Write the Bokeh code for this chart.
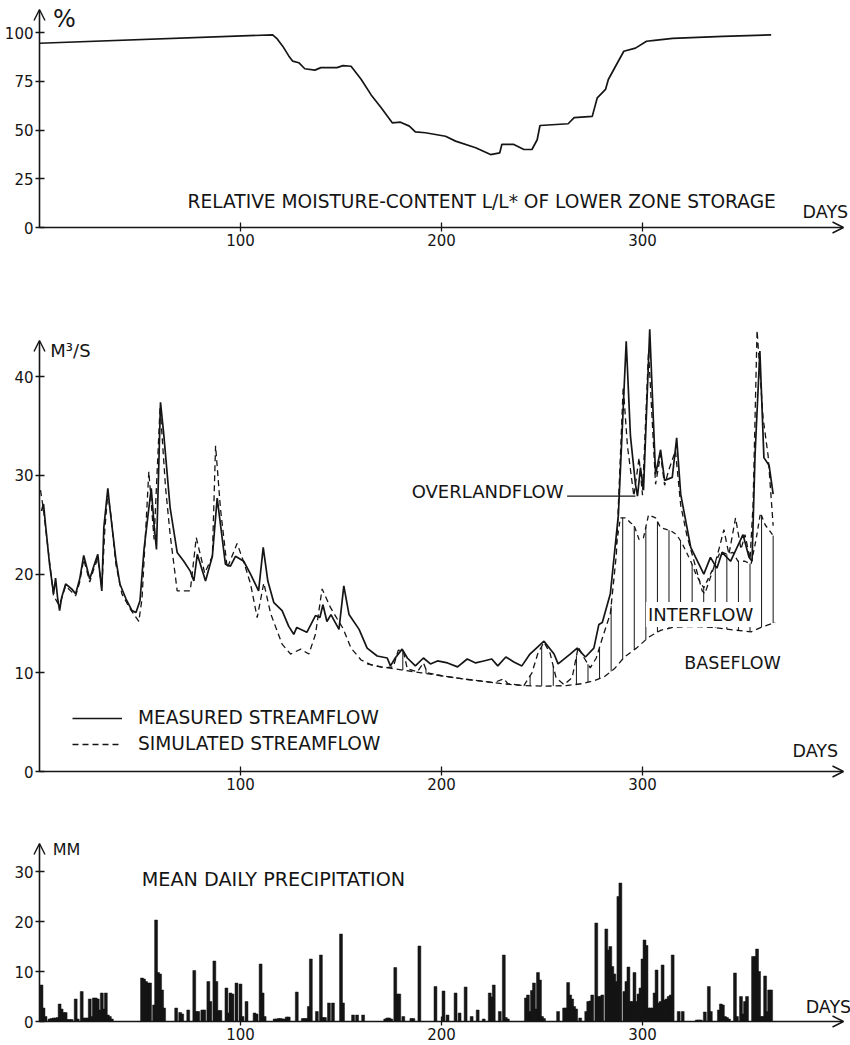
import numpy as np
from bokeh.plotting import figure
from bokeh.layouts import column
from bokeh.models import Range1d, FixedTicker, Arrow, OpenHead, Legend, LegendItem
from bokeh.core.properties import value
from bokeh.embed import file_html
from bokeh.resources import INLINE

FONT = "DejaVu Sans"
INK = "#151515"
LABEL_SIZE = "17.5px"

# ---------------- relative moisture content of lower zone storage (%) ----------------
moist_day = [0, 116, 118, 121, 124, 126, 129, 132, 137, 140, 148, 151, 155, 160, 165, 170,
             175.5, 179.6, 184, 187, 192, 202, 207, 217, 224.4, 229, 230, 236, 241, 245,
             247.6, 249, 263, 266, 275, 277.5, 281.6, 283, 286.6, 290.7, 296.5, 302, 306,
             315, 340, 364]
moist_pct = [94.5, 98.8, 97.0, 93.0, 88.0, 85.3, 84.5, 81.4, 80.7, 82.0, 82.0, 83.0, 82.7,
             76.0, 68.0, 61.4, 53.7, 54.0, 52.0, 49.0, 48.6, 46.8, 44.3, 40.9, 37.4, 38.3,
             42.6, 42.6, 40.0, 40.0, 45.0, 52.3, 53.2, 56.3, 57.0, 66.5, 70.8, 75.9, 82.7,
             90.4, 92.0, 95.5, 96.0, 97.0, 98.0, 98.8]

# ---------------- streamflow (m3/s) ----------------
meas_day = [1, 2, 3, 5, 7, 8, 9, 10, 11, 13, 16, 18, 20, 22, 25, 27, 29, 31, 32, 34, 35,
            38, 40, 43, 46, 48, 50, 52, 54, 55.6, 57, 58.2, 60.2, 61.8, 65, 68.5, 71.8, 75,
            76.8, 78.5, 82.6, 86, 88.4, 92.5, 95, 97.5, 101.6, 105, 109, 111.3, 113.6, 116.6,
            120.7, 124, 126.5, 128, 133, 137.3, 139.5, 141, 143, 145, 149, 151.4, 154, 159,
            163, 168, 173, 174.6, 177, 180.4, 183, 187, 191, 194.5, 198, 203, 208, 212.8,
            217, 221, 225, 228, 232, 236, 240, 244, 251, 256, 258, 264, 267.5, 271.6, 275.8,
            278.3, 280, 284, 288, 291.9, 294, 296.5, 297.5, 299, 300.5, 303.6, 306.5, 309,
            311, 314.8, 317, 319, 324, 330.5, 333.8, 337, 339.6, 343.8, 350, 353, 354.5, 356,
            358.4, 360.4, 363, 365]
meas_q = [26.4, 27.1, 25.0, 21.0, 18.0, 19.6, 17.6, 16.3, 17.6, 19.0, 18.5, 18.0, 19.5, 21.9,
          19.5, 20.8, 22.0, 18.3, 24.7, 28.7, 26.7, 21.5, 19.0, 17.5, 16.3, 16.1, 17.3, 22.5,
          26.0, 28.7, 25.0, 22.5, 37.4, 34.2, 26.7, 22.2, 21.3, 20.3, 19.3, 22.0, 19.3, 21.8,
          27.7, 21.0, 20.8, 21.8, 21.3, 20.0, 18.3, 22.7, 19.3, 17.1, 16.3, 14.7, 13.9, 14.6,
          14.1, 15.8, 15.6, 16.9, 15.2, 15.9, 14.4, 18.8, 15.9, 14.4, 12.5, 11.7, 11.5, 10.7,
          11.5, 12.4, 11.5, 10.7, 11.5, 10.9, 11.2, 11.0, 10.6, 11.4, 11.0, 11.2, 11.4, 10.7,
          11.6, 11.1, 10.7, 11.9, 13.2, 11.9, 10.9, 11.9, 12.5, 11.6, 12.5, 14.9, 15.1, 18.0,
          26.0, 43.6, 34.0, 29.1, 27.9, 30.8, 28.5, 44.8, 30.1, 32.6, 29.5, 29.8, 33.8, 28.1,
          22.7, 20.0, 21.7, 20.6, 22.2, 21.3, 24.0, 21.7, 21.3, 32.1, 42.6, 31.8, 31.0, 28.1]

sim_day = [0.5, 2, 4, 7, 9.6, 11, 13, 16, 18, 20, 22, 25, 27, 29, 31, 32.5, 34, 35.5, 38, 41,
           45, 49.4, 51, 54.4, 57, 60, 62.7, 65, 68.5, 75, 78, 82.2, 86, 87.6, 90, 93.4, 98.3,
           102, 105, 108.3, 111.6, 115, 120.7, 124.9, 130, 134, 137.3, 140.6, 144.8, 148, 151,
           155, 160, 165, 172, 176, 178.5, 181, 183, 188, 191, 193, 200, 210, 220, 226, 231,
           233, 241, 245, 248, 251, 254, 257, 261, 265, 268, 271, 274, 277, 280, 284, 287,
           290.4, 292.5, 295.7, 298.3, 300, 303, 306.5, 309, 311, 313, 316.4, 319, 322, 329.7,
           331, 336, 338, 340.5, 343, 346.3, 349, 351, 353.5, 355, 357, 360, 362.5, 365]
sim_q = [28.5, 26.5, 23.0, 17.8, 16.9, 17.5, 18.8, 18.2, 17.8, 19.2, 21.5, 19.2, 20.5, 21.6,
         18.6, 24.5, 28.2, 26.0, 21.0, 18.0, 16.5, 15.2, 17.5, 30.4, 23.5, 37.0, 28.8, 24.0,
         18.3, 18.3, 23.7, 20.1, 21.8, 33.0, 26.7, 20.6, 23.1, 21.0, 19.0, 15.6, 19.1, 16.0,
         12.9, 11.9, 12.4, 11.9, 13.9, 18.5, 16.6, 15.5, 14.5, 12.5, 11.3, 10.8, 10.5, 10.6,
         12.3, 12.2, 10.4, 10.1, 11.0, 10.0, 9.7, 9.4, 9.15, 9.0, 9.4, 8.9, 8.7, 10.0, 12.0,
         13.1, 12.0, 9.5, 8.8, 9.5, 12.6, 11.5, 10.5, 11.5, 13.5, 16.0, 22.0, 39.0, 33.0,
         27.9, 31.8, 28.0, 42.6, 29.1, 32.1, 29.0, 30.5, 32.5, 27.0, 24.0, 18.3, 18.0, 21.0,
         22.5, 24.5, 22.0, 25.7, 22.5, 24.0, 21.5, 27.0, 44.7, 35.8, 32.0, 24.9]

base_day = [163, 170, 180, 190, 200, 210, 220, 230, 241, 252, 262, 270, 276, 281, 286, 291,
            297, 303, 309, 315, 324, 335, 345, 354, 359, 366]
base_q = [10.9, 10.6, 10.3, 10.0, 9.7, 9.4, 9.15, 8.9, 8.7, 8.65, 8.7, 8.9, 9.2, 9.6, 10.4,
          11.6, 12.5, 13.6, 14.3, 14.6, 14.7, 14.6, 14.35, 14.15, 14.6, 15.1]

# baseflow + interflow
inter_day = [287, 289, 291.6, 294, 295.7, 298.3, 300.5, 303, 306.5, 309, 314, 317, 320, 324,
             327, 330.5, 334.5, 338.8, 342, 345, 347.5, 351, 354, 356.5, 358.7, 361, 365]
inter_q = [23.0, 25.7, 25.7, 25.2, 25.0, 23.5, 23.7, 26.0, 25.7, 24.7, 24.4, 24.0, 23.0, 21.3,
           19.8, 18.6, 20.3, 22.3, 22.0, 22.2, 21.3, 21.3, 21.0, 23.5, 26.2, 25.0, 23.9]

# ---------------- mean daily precipitation (mm) ----------------
precip_day = [1, 2, 3, 5, 6, 7, 8, 9, 10, 11, 12, 13, 14, 15, 16, 18, 19, 21, 22, 23, 24, 25,
              26, 27, 28, 29, 30, 31, 32, 33, 34, 35, 36,
              51, 52, 53, 54, 55, 57, 58, 59, 60, 61, 62, 68, 70, 71, 74, 77, 78, 79, 81, 82,
              84, 85, 87, 88, 89, 90, 93, 94, 95, 96, 98, 100, 101, 103, 107, 108, 110, 111,
              112, 117, 118, 119, 120, 121, 122, 123, 124, 128, 131, 132, 133, 134, 135, 138,
              140, 141, 142, 144, 146, 150, 151, 156, 158, 161, 172, 173, 174, 175, 177, 178,
              179, 181, 185, 186, 189,
              197, 201, 203, 207, 209, 212, 215, 218, 221, 224, 225, 226, 229, 231, 232, 233,
              242, 243, 244, 245, 246, 247, 248, 249, 250, 251, 258, 261, 262, 263, 264, 265,
              266, 267, 269, 272, 273, 274, 275, 277, 278, 279, 280, 282, 283, 284, 285, 286,
              287, 288, 289, 291, 292, 293, 294, 295, 296, 297, 298, 299, 300, 301, 302, 303,
              304, 305, 306, 307, 308, 309, 310, 311, 312, 313, 314, 315, 318, 320, 327, 328,
              329, 331, 333, 334, 338, 339, 340, 341, 342, 343, 346, 347, 349, 350, 351, 352,
              355, 356, 357, 358, 359, 360, 361, 362, 363, 364]
precip_mm = [7.3, 2.7, 1.0, 0.5, 0.6, 0.7, 0.7, 0.8, 3.5, 2.5, 1.8, 1.8, 0.4, 0.4, 0.4, 4.5,
             0.5, 6.0, 0.7, 0.7, 0.7, 4.5, 1.0, 4.7, 4.7, 4.5, 2.3, 5.7, 2.5, 5.7, 1.3, 1.0,
             0.5,
             8.7, 8.5, 8.0, 7.7, 7.7, 3.3, 20.3, 9.8, 9.5, 6.3, 2.7, 2.7, 1.8, 1.5, 2.3, 10.2,
             2.0, 2.0, 2.3, 2.3, 8.0, 4.0, 12.1, 8.0, 2.2, 2.2, 6.7, 1.7, 5.7, 5.5, 7.7, 7.5,
             1.0, 4.0, 1.7, 1.5, 11.5, 5.7, 1.0, 0.5, 0.5, 0.6, 0.6, 0.5, 0.5, 0.9, 0.9, 5.9,
             0.6, 0.6, 0.6, 3.0, 12.5, 2.0, 13.3, 0.8, 0.8, 3.7, 3.7, 17.5, 3.7, 1.3, 1.3, 1.3,
             0.5, 0.7, 0.7, 0.5, 10.8, 5.5, 5.5, 1.0, 0.6, 0.6, 15.1,
             7.0, 6.1, 1.3, 5.7, 1.7, 6.9, 1.0, 2.3, 0.5, 5.7, 4.9, 7.3, 2.0, 13.3, 0.8, 0.5,
             4.7, 5.3, 2.0, 6.2, 7.7, 2.5, 9.8, 8.3, 1.0, 0.6, 2.0, 2.7, 2.7, 7.8, 5.3, 4.5,
             3.0, 2.5, 0.7, 2.0, 4.0, 4.1, 5.3, 19.7, 5.0, 5.0, 5.3, 18.5, 14.3, 15.0, 11.0,
             9.5, 8.0, 25.0, 27.7, 6.0, 8.0, 10.9, 4.0, 4.0, 9.8, 4.0, 5.5, 6.7, 12.5, 16.3,
             15.2, 2.7, 2.7, 2.7, 5.7, 10.3, 3.7, 4.0, 11.3, 4.3, 4.5, 5.0, 5.3, 13.3, 2.0,
             2.0, 0.3, 0.3, 0.3, 1.9, 7.0, 2.0, 2.3, 3.5, 3.3, 1.0, 0.8, 0.5, 9.7, 1.0, 5.0,
             1.5, 4.0, 5.0, 13.0, 13.0, 14.5, 10.0, 1.0, 1.0, 9.1, 2.0, 6.3, 6.3]

day_ticks = [100, 200, 300]
moist_ticks = [0, 25, 50, 75, 100]
flow_ticks = [0, 10, 20, 30, 40]
precip_ticks = [0, 10, 20, 30]

WIDTH = 850
ORIGIN_X = 39          # pixel column of day 0
PX_PER_DAY = 2.01
AXIS_END = 400         # the day axis arrow stops here


def panel(height, zero_px, px_per_unit, yticks, y_tip):
    """A figure whose frame fills the whole canvas; the axes sit at the data origin."""
    x_range = Range1d(-ORIGIN_X / PX_PER_DAY, (WIDTH - ORIGIN_X) / PX_PER_DAY)
    y_range = Range1d(-(height - zero_px) / px_per_unit, zero_px / px_per_unit)
    p = figure(width=WIDTH, height=height, x_range=x_range, y_range=y_range,
               output_backend="svg", toolbar_location=None,
               min_border_left=0, min_border_right=0, min_border_top=0, min_border_bottom=0)
    p.outline_line_color = None
    p.grid.grid_line_color = None
    p.background_fill_color = "white"
    p.border_fill_color = "white"
    p.xaxis.ticker = FixedTicker(ticks=day_ticks)
    p.yaxis.ticker = FixedTicker(ticks=yticks)
    p.xaxis.fixed_location = 0
    p.yaxis.fixed_location = 0
    for ax in (p.xaxis[0], p.yaxis[0]):
        ax.axis_line_color = None
        ax.major_tick_in = 5
        ax.major_tick_out = 4
        ax.major_tick_line_color = INK
        ax.major_tick_line_width = 1.3
        ax.minor_tick_line_color = None
        ax.major_label_text_font = FONT
        ax.major_label_text_font_size = "15px"
        ax.major_label_text_color = INK
        ax.major_label_standoff = 2
    head = dict(size=11, line_width=1.4, line_color=INK)
    p.add_layout(Arrow(end=OpenHead(**head), x_start=0, y_start=0, x_end=AXIS_END, y_end=0,
                       line_width=1.6, line_color=INK))
    p.add_layout(Arrow(end=OpenHead(**head), x_start=0, y_start=0, x_end=0, y_end=y_tip,
                       line_width=1.6, line_color=INK))
    return p


def label(p, x, y, text, size=LABEL_SIZE, align="center", **kw):
    p.text(x=[x], y=[y], text=[text], text_font=value(FONT), text_font_size=size,
           text_color=INK, text_align=align, text_baseline="middle", **kw)


# ---------------- top panel: moisture content ----------------
p1 = panel(261, 227, 1.95, moist_ticks, 111.8)
p1.line(moist_day, moist_pct, line_width=1.7, line_color=INK)
label(p1, 12.4, 106.7, "%", size="24px")
label(p1, 220, 13.3, "RELATIVE MOISTURE-CONTENT L/L* OF LOWER ZONE STORAGE", size="18.6px")
label(p1, 391, 7.7, "DAYS")

# ---------------- middle panel: streamflow ----------------
p2 = panel(537, 510, 9.87, flow_ticks, 43.67)

# interflow hatching between baseflow and baseflow + interflow
hatch_day = np.linspace(175, 365, 34)
hatch_top = np.where(hatch_day < inter_day[0],
                     np.interp(hatch_day, sim_day, sim_q),
                     np.interp(hatch_day, inter_day, inter_q))
hatch_bot = np.interp(hatch_day, base_day, base_q)
keep = hatch_top > hatch_bot + 0.2
p2.segment(x0=hatch_day[keep], y0=hatch_bot[keep], x1=hatch_day[keep], y1=hatch_top[keep],
           line_width=1.0, line_color=INK)

p2.line(base_day, base_q, line_width=1.3, line_color=INK, line_dash="6 4")
p2.line(inter_day, inter_q, line_width=1.3, line_color=INK, line_dash="5 4")
r_sim = p2.line(sim_day, sim_q, line_width=1.3, line_color=INK, line_dash="6 4")
r_meas = p2.line(meas_day, meas_q, line_width=1.7, line_color=INK)

label(p2, 15.4, 42.65, "M³/S", size="18px")
label(p2, 386, 2.03, "DAYS")
label(p2, 260.7, 28.4, "OVERLANDFLOW", align="right", size="18px")
p2.line([262.5, 296.5], [27.9, 27.9], line_width=1.1, line_color=INK)
label(p2, 328.9, 15.9, "INTERFLOW", size="18px", background_fill_color="white", padding=2)
label(p2, 344.8, 11.0, "BASEFLOW")

legend = Legend(items=[LegendItem(label="MEASURED STREAMFLOW", renderers=[r_meas]),
                       LegendItem(label="SIMULATED STREAMFLOW", renderers=[r_sim])],
                location=(72, 44), orientation="vertical",
                glyph_width=50, glyph_height=20, label_height=20, label_standoff=16,
                spacing=5, padding=0, margin=0,
                border_line_color=None, background_fill_alpha=0,
                label_text_font=FONT, label_text_font_size="18.6px",
                label_text_color=INK)
p2.add_layout(legend)

# ---------------- bottom panel: precipitation ----------------
p3 = panel(247, 223, 5.0, precip_ticks, 35.6)
p3.vbar(x=precip_day, top=precip_mm, bottom=0, width=1.45, fill_color=INK, line_color=INK,
        line_width=0.5)
label(p3, 13.4, 34.4, "MM", size="16px")
label(p3, 116.4, 28.4, "MEAN DAILY PRECIPITATION", size="19.2px")
label(p3, 392.5, 3.0, "DAYS")

layout = column(p1, p2, p3, spacing=0)
open("out.html", "w").write(file_html(layout, INLINE))
